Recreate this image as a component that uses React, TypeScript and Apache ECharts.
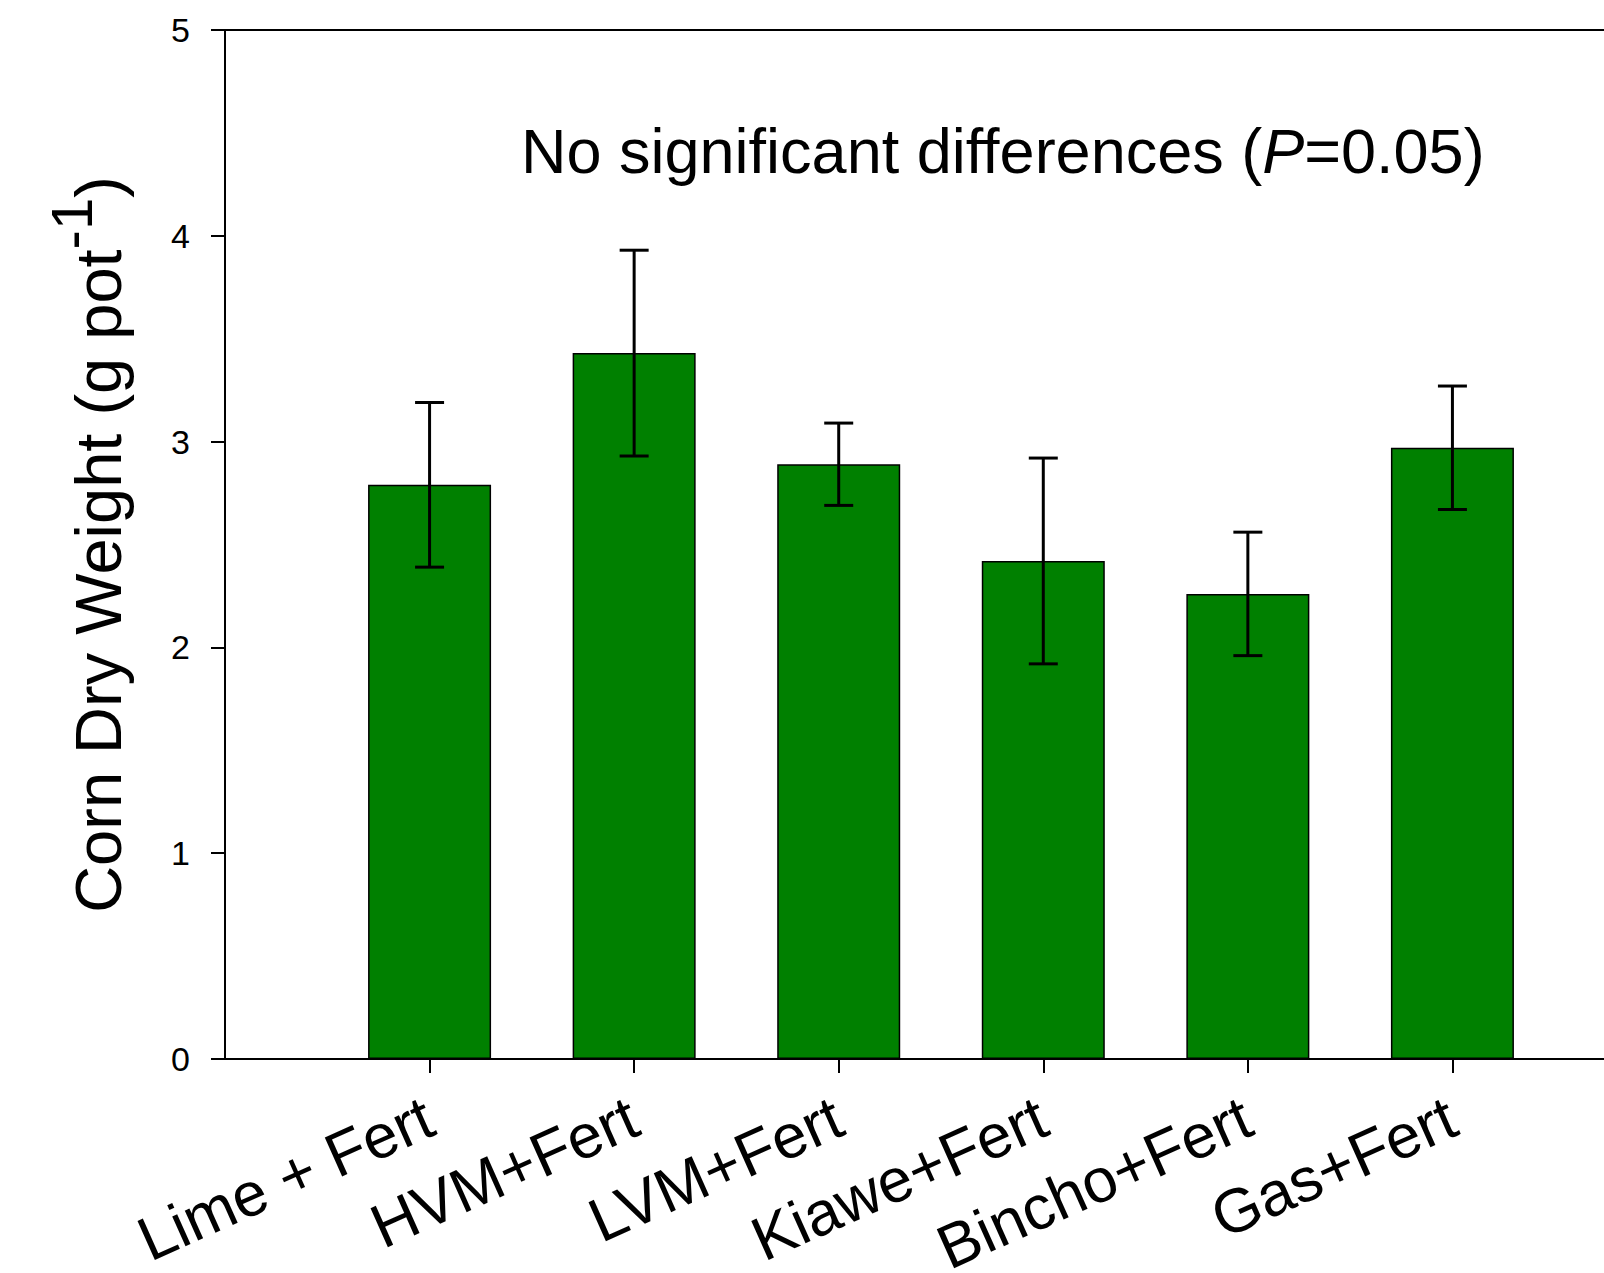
import React, { useEffect, useRef } from 'react';
import * as echarts from 'echarts';

const categories = ['Lime + Fert', 'HVM+Fert', 'LVM+Fert', 'Kiawe+Fert', 'Bincho+Fert', 'Gas+Fert'];
const means = [2.79, 3.43, 2.89, 2.42, 2.26, 2.97];
const errors = [0.4, 0.5, 0.2, 0.5, 0.3, 0.3];
const yMin = 0;
const yMax = 5;
const yInterval = 1;
const yTitleMain = 'Corn Dry Weight (g pot';
const yTitleSup = '-1';
const noteBefore = 'No significant differences (';
const noteItalic = 'P';
const noteAfter = '=0.05)';

const FONT = '"Liberation Sans", Arial, Helvetica, sans-serif';

export default function App() {
  const ref = useRef<HTMLDivElement>(null);
  useEffect(() => {
    if (!ref.current) return;
    const chart = echarts.init(ref.current, null, { renderer: 'svg' });
    const axisData = ['', ...categories, ''];
    const showIdx = (i: number) => i >= 1 && i <= categories.length;
    chart.setOption({
      animation: false,
      backgroundColor: '#fff',
      grid: {
        left: 225,
        top: 30,
        width: 1432,
        height: 1029,
        outerBoundsMode: 'none',
        containLabel: false,
        show: true,
        borderColor: '#000',
        borderWidth: 2,
        backgroundColor: 'transparent',
      },
      xAxis: {
        type: 'category',
        data: axisData,
        boundaryGap: false,
        axisLine: { show: true, lineStyle: { color: '#000', width: 2 } },
        axisTick: { show: true, length: 14, interval: (i: number) => showIdx(i), lineStyle: { color: '#000', width: 2 } },
        axisLabel: {
          interval: (i: number) => showIdx(i),
          rotate: 24,
          margin: 55,
          fontSize: 62,
          fontFamily: FONT,
          color: '#000',
        },
        splitLine: { show: false },
      },
      yAxis: {
        type: 'value',
        min: yMin,
        max: yMax,
        interval: yInterval,
        axisLine: { show: true, lineStyle: { color: '#000', width: 2 } },
        axisTick: { show: true, length: 14, lineStyle: { color: '#000', width: 2 } },
        axisLabel: { fontSize: 34, margin: 35, fontFamily: FONT, color: '#000' },
        splitLine: { show: false },
        name: `{a|${yTitleMain}}{s|${yTitleSup}}{a|)}`,
        nameLocation: 'middle',
        nameRotate: 90,
        nameGap: 94,
        nameTextStyle: {
          rich: {
            a: { fontSize: 65, lineHeight: 66, fontFamily: FONT, color: '#000' },
            s: { fontSize: 58, height: 12, lineHeight: 12, verticalAlign: 'top', fontFamily: FONT, color: '#000' },
          },
        },
      },
      series: [
        {
          type: 'bar',
          data: means.map((v, i) => [i + 1, v]),
          barWidth: 123,
          itemStyle: { color: '#008000', borderColor: '#000', borderWidth: 1.5 },
          z: 2,
        },
        {
          type: 'custom',
          data: means.map((v, i) => [i + 1, v - errors[i], v + errors[i]]),
          encode: { x: 0, y: [1, 2] },
          z: 5,
          renderItem: (params: any, api: any) => {
            const x = api.value(0);
            const lo = api.coord([x, api.value(1)]);
            const hi = api.coord([x, api.value(2)]);
            const hw = 14.5;
            const st = { stroke: '#000', lineWidth: 3 };
            return {
              type: 'group',
              children: [
                { type: 'line', shape: { x1: lo[0], y1: lo[1], x2: hi[0], y2: hi[1] }, style: st },
                { type: 'line', shape: { x1: lo[0] - hw, y1: lo[1], x2: lo[0] + hw, y2: lo[1] }, style: st },
                { type: 'line', shape: { x1: hi[0] - hw, y1: hi[1], x2: hi[0] + hw, y2: hi[1] }, style: st },
              ],
            };
          },
        },
      ],
      graphic: [
        {
          type: 'text',
          x: 521,
          y: 151,
          style: {
            text: `{n|${noteBefore}}{i|${noteItalic}}{n|${noteAfter}}`,
            verticalAlign: 'middle',
            align: 'left',
            rich: {
              n: { fontSize: 63, fontFamily: FONT, fill: '#000', color: '#000' },
              i: { fontSize: 63, fontFamily: FONT, fontStyle: 'italic', fill: '#000', color: '#000' },
            },
          },
        },
      ],
    });
    return () => chart.dispose();
  }, []);
  return <div ref={ref} style={{ position: 'absolute', left: 0, top: 0, width: 1604, height: 1273 }} />;
}
